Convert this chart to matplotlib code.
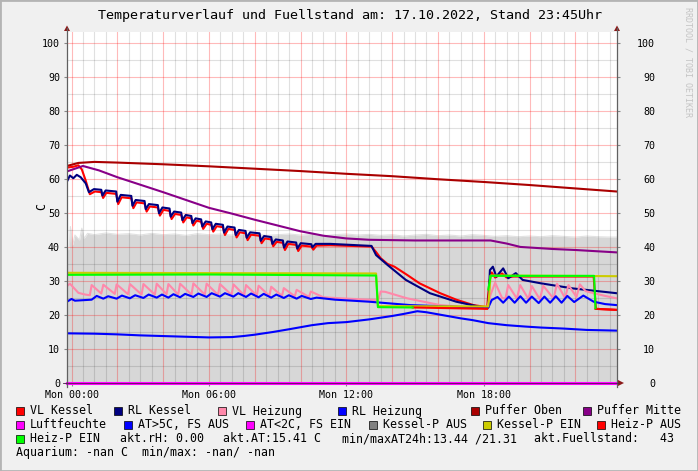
import numpy as np
import matplotlib
matplotlib.use('Agg')
import matplotlib.pyplot as plt
from matplotlib.patches import Polygon, Rectangle
from matplotlib.lines import Line2D

# ---------------- data (hours since Mon 00:00, degrees C) ----------------
puffer_oben_t = [-0.2, 0.3, 1.0, 2, 4, 6, 8, 10, 12, 14, 16, 18, 20, 22, 23.8]
puffer_oben_v = [63.8, 64.7, 65.0, 64.8, 64.3, 63.7, 63.0, 62.3, 61.5, 60.8, 59.9, 59.1, 58.2, 57.2, 56.3]

puffer_mitte_t = [-0.2, 0.5, 1.2, 2, 3, 4, 5, 6, 7, 8, 9, 10, 11, 12, 13, 15, 18.3, 19.0, 19.6, 21, 22, 23.8]
puffer_mitte_v = [62.2, 63.8, 62.5, 60.5, 58.3, 56.1, 53.8, 51.5, 49.8, 48.0, 46.3, 44.6, 43.3, 42.5, 42.1, 41.9, 41.9, 41.0, 40.0, 39.4, 39.1, 38.4]

rl_kessel_t = [-0.2, -0.07, 0.08, 0.23, 0.40, 0.62, 0.76, 0.98, 1.30, 1.35, 1.49, 1.95, 2.00, 2.15, 2.61, 2.66,
               2.80, 3.19, 3.24, 3.38, 3.77, 3.82, 3.97, 4.28, 4.33, 4.48, 4.79, 4.84, 4.99, 5.23, 5.28, 5.42,
               5.66, 5.71, 5.86, 6.10, 6.15, 6.30, 6.61, 6.66, 6.81, 7.12, 7.17, 7.31, 7.60, 7.65, 7.80, 8.21,
               8.26, 8.41, 8.72, 8.77, 8.92, 9.23, 9.28, 9.43, 9.81, 9.86, 10.01, 10.47, 10.52, 10.66, 11.3,
               13.1, 13.3, 13.8, 14.6, 15.65, 16.8, 18.1, 18.2, 18.27, 18.4, 18.55, 18.85, 19.07, 19.4, 19.7,
               20.5, 21.9, 23.8]
rl_kessel_v = [59.2, 61.0, 60.2, 61.2, 60.5, 58.7, 56.1, 57.0, 56.8, 55.1, 56.6, 56.3, 53.3, 55.3, 55.0, 52.1,
               53.8, 53.5, 51.1, 52.6, 52.3, 49.9, 51.6, 51.3, 48.9, 50.4, 50.1, 47.9, 49.4, 49.1, 47.0, 48.4,
               48.1, 46.0, 47.5, 47.2, 45.2, 46.8, 46.5, 44.2, 46.0, 45.7, 43.5, 45.0, 44.7, 42.7, 44.3, 44.0,
               41.8, 43.2, 42.9, 40.9, 42.2, 41.9, 39.8, 41.6, 41.3, 39.5, 41.1, 40.8, 39.9, 40.9, 40.9,
               40.3, 37.6, 34.7, 30.3, 26.4, 23.9, 22.0, 22.2, 33.2, 34.2, 31.3, 33.7, 30.8, 32.3, 30.3,
               29.3, 27.8, 26.4]

vl_kessel_t = [-0.2, 0.1, 0.3, 0.45, 0.62, 0.80, 1.02, 1.30, 1.38, 1.52, 1.95, 2.04, 2.19, 2.61, 2.70, 2.84,
               3.19, 3.28, 3.42, 3.77, 3.86, 4.01, 4.28, 4.37, 4.52, 4.79, 4.88, 5.03, 5.23, 5.32, 5.46, 5.66,
               5.75, 5.90, 6.10, 6.19, 6.34, 6.61, 6.70, 6.85, 7.12, 7.21, 7.35, 7.60, 7.69, 7.84, 8.21, 8.30,
               8.45, 8.72, 8.81, 8.96, 9.23, 9.32, 9.47, 9.81, 9.90, 10.05, 10.47, 10.56, 10.70, 11.3, 13.1,
               13.3, 13.5, 13.8, 14.1, 14.65, 15.2, 16.1, 16.8, 17.55, 18.15, 18.25, 18.35, 18.5, 18.8, 19.0,
               19.3, 22.8, 22.9, 23.8]
vl_kessel_v = [63.3, 63.6, 64.0, 62.8, 59.5, 55.5, 56.3, 56.1, 54.4, 55.9, 55.6, 52.6, 54.6, 54.3, 51.4, 53.1,
               52.8, 50.4, 51.9, 51.6, 49.2, 50.9, 50.6, 48.2, 49.7, 49.4, 47.2, 48.7, 48.4, 46.3, 47.7, 47.4,
               45.3, 46.8, 46.5, 44.5, 46.1, 45.8, 43.5, 45.3, 45.0, 42.8, 44.3, 44.0, 42.0, 43.6, 43.3, 41.1,
               42.5, 42.2, 40.2, 41.5, 41.2, 39.1, 40.9, 40.6, 38.8, 40.4, 40.1, 39.2, 40.4, 40.5, 40.1,
               38.5, 36.7, 35.0, 34.2, 31.8, 29.3, 26.4, 24.5, 22.9, 22.3, 30.0, 32.5, 31.0, 32.2, 31.0,
               31.3, 31.3, 21.8, 21.5]

vl_heizung_t = [-0.2, -0.07, 0.3, 0.6, 0.80, 0.88, 1.3, 1.39, 1.89, 1.97, 2.47, 2.55, 3.06, 3.14, 3.64, 3.72,
                4.15, 4.23, 4.66, 4.74, 5.24, 5.32, 5.82, 5.90, 6.40, 6.48, 6.99, 7.07, 7.54, 7.62, 8.09, 8.17,
                8.64, 8.72, 9.19, 9.27, 9.75, 9.83, 10.37, 10.45, 11.0, 12.0, 13.3, 13.4, 13.5, 13.7, 14.65,
                16.1, 17.3, 18.15, 18.3, 18.5, 18.8, 18.95, 19.07, 19.45, 19.59, 19.95, 20.10, 20.45, 20.60,
                21.05, 21.20, 21.55, 21.70, 22.05, 22.20, 22.45, 22.8, 23.3, 23.8]
vl_heizung_v = [28.5, 29.2, 26.5, 26.0, 25.8, 28.8, 26.3, 28.9, 26.2, 29.0, 26.1, 29.1, 26.0, 29.1, 26.0, 29.2,
                26.1, 29.1, 26.0, 29.2, 26.0, 29.3, 26.0, 29.2, 25.9, 29.1, 25.9, 29.0, 25.8, 28.8, 25.7, 28.6,
                25.6, 28.3, 25.6, 27.9, 25.5, 27.4, 25.3, 26.9, 25.2, 24.8, 24.4, 24.6, 26.9, 26.8, 24.9,
                22.9, 22.3, 22.0, 26.0, 29.5, 25.0, 24.8, 28.8, 24.8, 28.8, 24.7, 28.5, 24.6, 28.6,
                24.8, 29.2, 25.0, 28.8, 25.3, 29.0, 27.0, 26.4, 25.6, 24.9]

rl_heizung_t = [-0.2, 0.0, 0.15, 0.88, 1.1, 1.39, 1.6, 1.97, 2.2, 2.55, 2.78, 3.14, 3.37, 3.72, 3.95, 4.23, 4.45,
                4.74, 4.96, 5.32, 5.54, 5.90, 6.12, 6.48, 6.70, 7.07, 7.28, 7.62, 7.84, 8.17, 8.39, 8.72, 8.94,
                9.27, 9.49, 9.83, 10.05, 10.45, 10.7, 11.5, 13.0, 14.8, 16.8, 18.1, 18.2, 18.35, 18.6, 18.85,
                19.1, 19.35, 19.6, 19.85, 20.1, 20.4, 20.65, 20.9, 21.15, 21.4, 21.65, 21.95, 22.35, 22.8,
                23.3, 23.8]
rl_heizung_v = [23.9, 24.7, 24.2, 24.5, 25.6, 24.8, 25.5, 24.8, 25.7, 24.9, 25.8, 25.0, 26.0, 25.1, 26.0, 25.1, 26.1,
                25.2, 26.2, 25.3, 26.3, 25.3, 26.4, 25.4, 26.4, 25.4, 26.4, 25.3, 26.3, 25.2, 26.2, 25.1, 26.0,
                25.0, 25.8, 24.8, 25.6, 24.7, 25.1, 24.5, 23.9, 22.9, 22.4, 22.0, 22.2, 24.4, 25.3, 23.6,
                25.4, 23.6, 25.5, 23.6, 25.4, 23.5, 25.4, 23.6, 25.5, 23.6, 25.6, 23.8, 25.7, 23.9,
                23.2, 22.9]

aussen_t = [-0.2, 1, 2, 3, 4, 5, 6, 7, 7.5, 8, 8.8, 9.5, 10, 10.5, 11.2, 12, 12.5, 13, 13.5, 14, 14.5, 15.1,
            15.5, 16, 16.5, 17, 17.5, 18.2, 19, 19.8, 20.5, 21.5, 22.5, 23.8]
aussen_v = [14.6, 14.5, 14.3, 14.0, 13.8, 13.6, 13.4, 13.5, 13.8, 14.2, 15.0, 15.8, 16.4, 17.0, 17.6, 17.9,
            18.3, 18.7, 19.2, 19.7, 20.3, 21.1, 20.8, 20.2, 19.6, 19.0, 18.5, 17.6, 17.0, 16.6, 16.3, 16.0,
            15.6, 15.4]

luftfeuchte_t = [-0.2, 23.8]
luftfeuchte_v = [0.0, 0.0]

kessel_p_ein_t = [-0.2, 13.3, 13.38, 18.2, 18.3, 23.8]
kessel_p_ein_v = [32.4, 32.2, 22.6, 22.5, 31.6, 31.4]

heiz_p_ein_t = [-0.2, 6.0, 13.3, 13.38, 14.9, 14.91, 18.2, 18.3, 22.82, 22.88]
heiz_p_ein_v = [31.8, 31.9, 31.6, 22.3, 22.2, np.nan, 27.5, 31.5, 31.5, 22.0]

heiz_p_aus_t = [14.9, 18.15, 18.16, 22.88, 23.8]
heiz_p_aus_v = [22.2, 21.8, np.nan, 21.8, 21.5]

fuellstand_t = [-0.2, -0.1, -0.05, 0.05, 0.15, 0.35, 0.45, 0.55, 0.7, 1.0, 1.5, 2.0, 2.5, 3.0, 3.5, 4.0, 4.5,
                5.0, 5.5, 6.0, 6.5, 7.0, 7.5, 8.0, 8.5, 9.0, 9.5, 10.0, 10.5, 11.0, 11.5, 12.0, 12.5, 13.0,
                13.5, 14.0, 14.5, 15.0, 15.5, 16.0, 16.5, 17.0, 17.5, 18.0, 18.5, 19.0, 19.5, 20.0, 20.5,
                21.0, 21.5, 22.0, 22.5, 23.0, 23.5, 23.8]
fuellstand_v = [39.0, 39.5, 46.0, 40.5, 43.5, 42.0, 45.5, 42.5, 44.0, 43.6, 44.1, 43.7, 43.9, 43.5, 44.0, 43.6,
                43.8, 43.4, 43.9, 43.6, 43.8, 43.5, 43.7, 43.9, 43.4, 43.6, 43.8, 43.5, 43.7, 43.3, 43.6,
                43.8, 43.5, 43.7, 43.4, 43.6, 43.2, 43.5, 43.7, 43.3, 43.5, 43.2, 43.6, 43.4, 43.1, 43.3,
                43.0, 43.2, 43.0, 43.3, 43.1, 42.9, 43.2, 43.0, 42.9, 42.9]

y_ticks = [0, 10, 20, 30, 40, 50, 60, 70, 80, 90, 100]
x_ticks = [0, 6, 12, 18]
x_labels = ['Mon 00:00', 'Mon 06:00', 'Mon 12:00', 'Mon 18:00']

legend_rows = [
    [('VL Kessel', '#ff0000'), ('RL Kessel', '#000080'), ('VL Heizung', '#ff88aa'),
     ('RL Heizung', '#0000ff'), ('Puffer Oben', '#aa0000'), ('Puffer Mitte', '#880088')],
    [('Luftfeuchte', '#ff00ff'), ('AT>5C, FS AUS', '#0000ff'), ('AT<2C, FS EIN', '#ff00ff'),
     ('Kessel-P AUS', '#808080'), ('Kessel-P EIN', '#cccc00'), ('Heiz-P AUS', '#ff0000')],
    [('Heiz-P EIN', '#00ff00')],
]
legend_x = [[16, 114, 218, 338, 471, 583], [16, 124, 246, 369, 483, 597], [16]]
info_texts = [('akt.rH: 0.00', 120), ('akt.AT:15.41 C', 223), ('min/maxAT24h:13.44 /21.31', 342),
              ('akt.Fuellstand:   43', 534)]
aquarium_text = 'Aquarium: -nan C  min/max: -nan/ -nan'

# ---------------- figure ----------------
W, H = 698, 471
MONO = 'DejaVu Sans Mono'
fig = plt.figure(figsize=(W / 100, H / 100), dpi=100, facecolor='#f0f0f0')

def fx(px):
    return px / W

def fy(py):
    return 1 - py / H

ax = fig.add_axes([fx(67), fy(383), (617 - 67) / W, (383 - 32.3) / H])
ax.set_facecolor('white')
ax.set_xlim(-0.197, 23.82)
ax.set_ylim(0, 103.1)
for s in ax.spines.values():
    s.set_visible(False)

# area
ax.fill_between(fuellstand_t, 0, fuellstand_v, color='#d7d7d7', lw=0, zorder=1)
ax.plot(fuellstand_t, fuellstand_v, color='#e2e2e2', lw=0.8, zorder=1.1)

# grid
for h in np.arange(0, 23.9, 0.5):
    if abs(h % 2) < 1e-9:
        ax.axvline(h, color=(1, 0, 0, 0.27), lw=0.8, zorder=1.5)
    else:
        ax.axvline(h, color=(0, 0, 0, 0.12), lw=0.8, zorder=1.5)
for v in range(5, 101, 5):
    if v % 10 == 0:
        ax.axhline(v, color=(1, 0, 0, 0.27), lw=0.8, zorder=1.5)
    else:
        ax.axhline(v, color=(0, 0, 0, 0.12), lw=0.8, zorder=1.5)

LW = 1.5
ax.plot(vl_kessel_t, vl_kessel_v, color='#ff0000', lw=LW, zorder=2)
ax.plot(rl_kessel_t, rl_kessel_v, color='#000080', lw=LW, zorder=2.1)
ax.plot(vl_heizung_t, vl_heizung_v, color='#ff88aa', lw=LW, zorder=2.2)
ax.plot(rl_heizung_t, rl_heizung_v, color='#0000ff', lw=LW, zorder=2.3)
ax.plot(puffer_oben_t, puffer_oben_v, color='#aa0000', lw=LW, zorder=2.4)
ax.plot(puffer_mitte_t, puffer_mitte_v, color='#880088', lw=LW, zorder=2.5)
ax.plot(aussen_t, aussen_v, color='#0000ff', lw=LW, zorder=2.6)
ax.plot(kessel_p_ein_t, kessel_p_ein_v, color='#cccc00', lw=LW, zorder=2.7)
ax.plot(heiz_p_aus_t, heiz_p_aus_v, color='#ff0000', lw=LW, zorder=2.8)
ax.plot(heiz_p_ein_t, heiz_p_ein_v, color='#00ff00', lw=LW, zorder=2.9)
ax.plot(luftfeuchte_t, luftfeuchte_v, color='#ff00ff', lw=2.2, zorder=3, clip_on=False)

# ticks
ax.set_yticks(y_ticks)
ax.set_yticklabels([str(v) for v in y_ticks], family=MONO, fontsize=7.2)
ax.set_xticks(x_ticks)
ax.set_xticklabels(x_labels, family=MONO, fontsize=7.2)
ax.tick_params(axis='y', length=2, pad=3, color='#888888', labelcolor='black')
ax.tick_params(axis='x', length=2, pad=3, color='#888888', labelcolor='black')

ax2 = ax.twinx()
ax2.set_ylim(ax.get_ylim())
for s in ax2.spines.values():
    s.set_visible(False)
ax2.set_yticks(y_ticks)
ax2.set_yticklabels([str(v) for v in y_ticks], family=MONO, fontsize=7.2, ha='right')
ax2.tick_params(axis='y', length=2, pad=25.5, color='#888888')

# axis lines and arrows
axc = '#606060'
fig.add_artist(Line2D([fx(67), fx(67)], [fy(28), fy(387)], color=axc, lw=0.9))
fig.add_artist(Line2D([fx(617), fx(617)], [fy(28), fy(387)], color=axc, lw=0.9))
fig.add_artist(Line2D([fx(63), fx(619)], [fy(383), fy(383)], color='#502050', lw=0.6, zorder=5))
arrow_c = '#8b1a1a'
for xa in (67, 617):
    fig.add_artist(Polygon([[fx(xa - 3), fy(31)], [fx(xa + 3), fy(31)], [fx(xa), fy(25.5)]],
                           closed=True, color=arrow_c, lw=0))
fig.add_artist(Polygon([[fx(618), fy(380)], [fx(618), fy(386)], [fx(624), fy(383)]],
                       closed=True, color=arrow_c, lw=0))

# texts
fig.text(fx(350), fy(16), 'Temperaturverlauf und Fuellstand am: 17.10.2022, Stand 23:45Uhr',
         family=MONO, fontsize=9.6, ha='center', va='center')
fig.text(fx(42), fy(207), 'C', family=MONO, fontsize=8.4, rotation=90, ha='center', va='center')
fig.text(fx(688), fy(62), 'RRDTOOL / TOBI OETIKER', family=MONO, fontsize=6, rotation=-90,
         color='#c4c4c4', ha='center', va='center')

row_y = [411, 425, 439, 452.5]
for r, row in enumerate(legend_rows):
    for (name, col), xs in zip(row, legend_x[r]):
        fig.add_artist(Rectangle((fx(xs), fy(row_y[r] + 4)), 8 / W, 8 / H, transform=fig.transFigure,
                                 facecolor=col, edgecolor='black', lw=0.5))
        fig.text(fx(xs + 14), fy(row_y[r]), name, family=MONO, fontsize=8.4, ha='left', va='center')
for txt, xs in info_texts:
    fig.text(fx(xs), fy(row_y[2]), txt, family=MONO, fontsize=8.4, ha='left', va='center')
fig.text(fx(16), fy(row_y[3]), aquarium_text, family=MONO, fontsize=8.4, ha='left', va='center')

# frame
fig.add_artist(Rectangle((0, 0), 1, 1, transform=fig.transFigure, fill=False, edgecolor='#b4b4b4', lw=2))

fig.savefig('out.png', dpi=100, facecolor=fig.get_facecolor())
